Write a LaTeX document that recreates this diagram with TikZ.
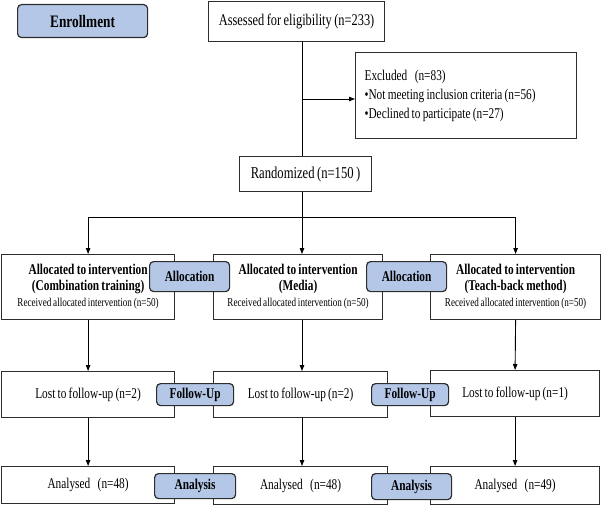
\documentclass[tikz,border=0pt]{standalone}
\usepackage{fontspec}
\setmainfont{Liberation Serif}[FakeStretch=0.76,WordSpace=0.8]
\usetikzlibrary{arrows.meta}
\definecolor{badgefill}{RGB}{180,199,231}
\definecolor{edgegray}{RGB}{45,45,45}
\begin{document}
\begin{tikzpicture}[x=1pt,y=-1pt,
  box/.style={draw=edgegray, line width=1.2pt, fill=white, inner sep=0pt, anchor=north west,
    font=\fontsize{14.9}{16}\selectfont, align=center},
  badge/.style={draw=edgegray, line width=1.2pt, fill=badgefill, rounded corners=4pt, inner sep=0pt,
    anchor=north west, font=\bfseries\fontsize{14.9}{16}\selectfont},
  arr/.style={draw=black, line width=0.9pt, -{Triangle[length=6pt,width=4.5pt]}},
  ln/.style={draw=black, line width=0.9pt}]
\useasboundingbox (0,0) rectangle (605,505);

% enrollment
\node[badge, minimum width=130pt, minimum height=33pt, font=\bfseries\fontsize{17.5}{18}\selectfont] (enr) at (17,4) {Enrollment};
\node[box, minimum width=176pt, minimum height=40pt, font=\fontsize{16.3}{18}\selectfont] (assess) at (208,1) {Assessed for eligibility (n=233)};
\node[box, minimum width=221pt, minimum height=86pt, text width=203pt, inner xsep=9pt, align=flush left,
  font=\fontsize{14.9}{19}\selectfont] (excl) at (355,52)
  {Excluded\enspace(n=83)\\•Not meeting inclusion criteria (n=56)\\•Declined to participate (n=27)};
\node[box, minimum width=132pt, minimum height=35pt, font=\fontsize{16.6}{18}\selectfont] (rand) at (239,156) {Randomized (n=150\ )};

% allocation row
\node[box, minimum width=173pt, minimum height=65pt] (a1) at (1,254)
  {\textbf{Allocated to intervention}\\\textbf{(Combination training)}\\{\fontsize{12}{16}\selectfont Received allocated intervention (n=50)}};
\node[box, minimum width=169pt, minimum height=65pt] (a2) at (213,254)
  {\textbf{Allocated to intervention}\\\textbf{(Media)}\\{\fontsize{12}{16}\selectfont Received allocated intervention (n=50)}};
\node[box, minimum width=170pt, minimum height=65pt] (a3) at (430,254)
  {\textbf{Allocated to intervention}\\\textbf{(Teach-back method)}\\{\fontsize{12}{16}\selectfont Received allocated intervention (n=50)}};
\node[badge, minimum width=80pt, minimum height=30pt] (b1) at (149,261) {Allocation};
\node[badge, minimum width=80pt, minimum height=30pt] (b2) at (366,261) {Allocation};

% follow-up row
\node[box, minimum width=173pt, minimum height=46pt] (l1) at (1,371) {Lost to follow-up (n=2)};
\node[box, minimum width=174pt, minimum height=46pt] (l2) at (213,371) {Lost to follow-up (n=2)};
\node[box, minimum width=169pt, minimum height=46pt] (l3) at (430,370) {Lost to follow-up (n=1)};
\node[badge, minimum width=77pt, minimum height=22pt] (f1) at (156,383) {Follow-Up};
\node[badge, minimum width=77pt, minimum height=22pt] (f2) at (371,383) {Follow-Up};

% analysis row
\node[box, minimum width=173pt, minimum height=37pt] (n1) at (1,466) {Analysed\enspace(n=48)};
\node[box, minimum width=174pt, minimum height=38pt] (n2) at (213,466) {Analysed\enspace(n=48)};
\node[box, minimum width=169pt, minimum height=38pt] (n3) at (430,466) {Analysed\enspace(n=49)};
\node[badge, minimum width=81pt, minimum height=25pt] (g1) at (154,473) {Analysis};
\node[badge, minimum width=80pt, minimum height=26pt] (g2) at (371,473) {Analysis};

% connectors
\coordinate (split) at (302,99);
\coordinate (fork) at (302,217);
\draw[ln] (assess.south -| split) -- (rand.north -| split);
\draw[arr] (split) -- (split -| excl.west);
\draw[ln] (rand.south -| fork) -- (fork);
\draw[arr] (fork) -- (a2.north -| fork);
\draw[arr] (fork) -| (a1.north);
\draw[arr] (fork) -| (a3.north);
\draw[arr] (a1.south) -- (l1.north);
\draw[arr] (a2.south -| fork) -- (l2.north -| fork);
\draw[arr] (a3.south) -- (l3.north);
\draw[arr] (l1.south) -- (n1.north);
\draw[arr] (l2.south -| fork) -- (n2.north -| fork);
\draw[arr] (l3.south) -- (n3.north);
\end{tikzpicture}
\end{document}
